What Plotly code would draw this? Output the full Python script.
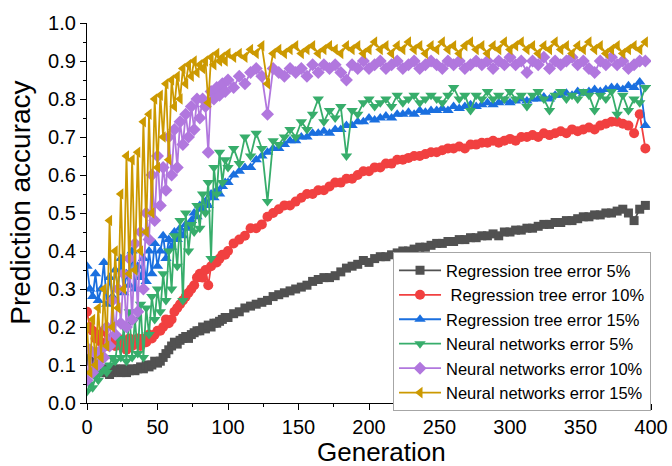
import plotly.graph_objects as go

generations = list(range(0, 100, 2)) + list(range(100, 400, 4))

rt_err5 = [
    0.13, 0.11, 0.10, 0.09, 0.10, 0.08, 0.09, 0.08, 0.075, 0.08,
    0.09, 0.085, 0.08, 0.09, 0.08, 0.085, 0.09, 0.085, 0.09, 0.095,
    0.09, 0.10, 0.095, 0.10, 0.11, 0.105, 0.11, 0.12, 0.13, 0.14,
    0.15, 0.16, 0.155, 0.165, 0.17, 0.175, 0.17, 0.18, 0.185, 0.19,
    0.19, 0.20, 0.195, 0.205, 0.20, 0.21, 0.21, 0.215, 0.22, 0.225,
    0.225, 0.235, 0.24, 0.25, 0.255, 0.26, 0.265, 0.27, 0.28, 0.285,
    0.29, 0.295, 0.30, 0.305, 0.31, 0.32, 0.325, 0.33, 0.33, 0.335,
    0.345, 0.355, 0.36, 0.365, 0.375, 0.37, 0.38, 0.385, 0.385, 0.39,
    0.395, 0.40, 0.40, 0.405, 0.41, 0.41, 0.415, 0.42, 0.42, 0.425,
    0.425, 0.43, 0.43, 0.435, 0.435, 0.44, 0.44, 0.445, 0.44, 0.45,
    0.45, 0.455, 0.455, 0.46, 0.46, 0.465, 0.47, 0.47, 0.475, 0.475,
    0.48, 0.48, 0.485, 0.49, 0.49, 0.495, 0.495, 0.50, 0.50, 0.505,
    0.51, 0.50, 0.48, 0.51, 0.52,
]

rt_err10 = [
    0.24, 0.20, 0.19, 0.17, 0.18, 0.16, 0.19, 0.15, 0.17, 0.16,
    0.15, 0.17, 0.15, 0.16, 0.14, 0.17, 0.15, 0.16, 0.17, 0.15,
    0.17, 0.16, 0.18, 0.17, 0.18, 0.19, 0.19, 0.20, 0.22, 0.21,
    0.22, 0.24, 0.25, 0.26, 0.27, 0.28, 0.29, 0.30, 0.31, 0.33,
    0.34, 0.33, 0.35, 0.31, 0.36, 0.37, 0.37, 0.38, 0.39, 0.39,
    0.40, 0.42, 0.43, 0.44, 0.46, 0.46, 0.47, 0.49, 0.50, 0.51,
    0.52, 0.52, 0.53, 0.54, 0.55, 0.55, 0.56, 0.56, 0.57, 0.58,
    0.58, 0.59, 0.59, 0.60, 0.61, 0.61, 0.62, 0.62, 0.63, 0.63,
    0.64, 0.64, 0.645, 0.65, 0.65, 0.655, 0.66, 0.66, 0.665, 0.67,
    0.67, 0.675, 0.67, 0.68, 0.68, 0.685, 0.685, 0.69, 0.685, 0.69,
    0.695, 0.69, 0.70, 0.70, 0.705, 0.70, 0.71, 0.705, 0.71, 0.715,
    0.71, 0.72, 0.715, 0.72, 0.725, 0.72, 0.73, 0.735, 0.74, 0.74,
    0.735, 0.73, 0.71, 0.76, 0.67,
]

rt_err15 = [
    0.36, 0.30, 0.28, 0.34, 0.27, 0.30, 0.37, 0.26, 0.33, 0.28,
    0.35, 0.30, 0.38, 0.29, 0.34, 0.31, 0.40, 0.30, 0.36, 0.33,
    0.38, 0.32, 0.40, 0.34, 0.42, 0.36, 0.40, 0.44, 0.38, 0.43,
    0.41, 0.45, 0.43, 0.46, 0.44, 0.47, 0.46, 0.48, 0.50, 0.49,
    0.52, 0.51, 0.53, 0.52, 0.55, 0.54, 0.56, 0.55, 0.57, 0.58,
    0.58, 0.60, 0.61, 0.62, 0.62, 0.64, 0.65, 0.66, 0.67, 0.67,
    0.68, 0.69, 0.69, 0.70, 0.70, 0.71, 0.71, 0.715, 0.71, 0.72,
    0.72, 0.73, 0.73, 0.74, 0.74, 0.75, 0.745, 0.75, 0.755, 0.75,
    0.76, 0.76, 0.765, 0.76, 0.77, 0.765, 0.77, 0.77, 0.775, 0.77,
    0.78, 0.775, 0.78, 0.785, 0.78, 0.785, 0.79, 0.785, 0.79, 0.795,
    0.79, 0.795, 0.80, 0.795, 0.80, 0.80, 0.805, 0.80, 0.81, 0.81,
    0.815, 0.81, 0.82, 0.815, 0.82, 0.825, 0.82, 0.825, 0.83, 0.83,
    0.825, 0.835, 0.83, 0.845, 0.73,
]

nn_err5 = [
    0.03, 0.05, 0.04, 0.07, 0.06, 0.08, 0.09, 0.08, 0.10, 0.12,
    0.11, 0.17, 0.12, 0.20, 0.11, 0.24, 0.12, 0.22, 0.13, 0.26,
    0.12, 0.25, 0.18, 0.28, 0.22, 0.30, 0.24, 0.34, 0.27, 0.40,
    0.30, 0.44, 0.36, 0.48, 0.27, 0.50, 0.40, 0.47, 0.45, 0.52,
    0.46, 0.55, 0.50, 0.58, 0.38, 0.62, 0.55, 0.66, 0.58, 0.64,
    0.62, 0.67, 0.63, 0.70, 0.65, 0.71, 0.67, 0.53, 0.69, 0.68,
    0.70, 0.72, 0.70, 0.74, 0.72, 0.76, 0.80, 0.74, 0.77, 0.75,
    0.78, 0.65, 0.77, 0.76, 0.79, 0.80, 0.78, 0.79, 0.80, 0.78,
    0.81, 0.79, 0.80, 0.81, 0.79, 0.80, 0.81, 0.80, 0.79, 0.81,
    0.83, 0.80, 0.81, 0.77, 0.81, 0.80, 0.82, 0.80, 0.81, 0.80,
    0.82, 0.80, 0.81, 0.78, 0.81, 0.82, 0.80, 0.77, 0.81, 0.82,
    0.80, 0.81, 0.80, 0.82, 0.81, 0.77, 0.81, 0.80, 0.82, 0.76,
    0.81, 0.77, 0.80, 0.79, 0.83,
]

nn_err10 = [
    0.06, 0.14, 0.08, 0.13, 0.10, 0.14, 0.12, 0.20, 0.15, 0.27,
    0.18, 0.30, 0.21, 0.34, 0.20, 0.38, 0.22, 0.42, 0.24, 0.45,
    0.30, 0.50, 0.43, 0.60, 0.48, 0.65, 0.52, 0.62, 0.56, 0.70,
    0.60, 0.72, 0.62, 0.74, 0.68, 0.76, 0.70, 0.78, 0.72, 0.80,
    0.75, 0.80, 0.78, 0.66, 0.82, 0.80, 0.83, 0.81, 0.84, 0.82,
    0.85, 0.83, 0.86, 0.84, 0.87, 0.88, 0.86, 0.76, 0.88, 0.87,
    0.86, 0.88, 0.87, 0.88, 0.86, 0.89, 0.87, 0.89, 0.88, 0.89,
    0.87, 0.85, 0.89, 0.88, 0.90, 0.88, 0.89, 0.90, 0.88, 0.89,
    0.90, 0.88, 0.89, 0.90, 0.88, 0.89, 0.90, 0.89, 0.88, 0.90,
    0.89, 0.90, 0.88, 0.89, 0.90, 0.89, 0.90, 0.88, 0.90, 0.89,
    0.91, 0.89, 0.90, 0.87, 0.90, 0.89, 0.91, 0.88, 0.90, 0.89,
    0.90, 0.91, 0.89, 0.90, 0.88, 0.87, 0.90, 0.89, 0.91, 0.89,
    0.90, 0.88, 0.89, 0.90, 0.90,
]

nn_err15 = [
    0.20, 0.08, 0.22, 0.10, 0.25, 0.12, 0.30, 0.15, 0.48, 0.20,
    0.40, 0.25, 0.55, 0.30, 0.65, 0.34, 0.64, 0.35, 0.66, 0.40,
    0.74, 0.45, 0.76, 0.50, 0.80, 0.62, 0.81, 0.70, 0.84, 0.64,
    0.85, 0.78, 0.86, 0.80, 0.88, 0.84, 0.89, 0.86, 0.90, 0.87,
    0.89, 0.88, 0.90, 0.79, 0.91, 0.89, 0.92, 0.90, 0.91, 0.90,
    0.92, 0.91, 0.92, 0.91, 0.93, 0.92, 0.94, 0.84, 0.92, 0.93,
    0.92, 0.93, 0.94, 0.92, 0.93, 0.94, 0.92, 0.93, 0.94, 0.93,
    0.92, 0.94, 0.93, 0.94, 0.92, 0.93, 0.95, 0.93, 0.94, 0.92,
    0.94, 0.93, 0.95, 0.93, 0.94, 0.92, 0.94, 0.93, 0.95, 0.93,
    0.94, 0.92, 0.94, 0.95, 0.93, 0.94, 0.92, 0.94, 0.93, 0.95,
    0.93, 0.94, 0.95, 0.93, 0.94, 0.92, 0.94, 0.93, 0.95, 0.93,
    0.94, 0.92, 0.94, 0.93, 0.95, 0.93, 0.94, 0.92, 0.93, 0.94,
    0.92, 0.93, 0.94, 0.93, 0.95,
]

series_names = [
    "Regression tree error 5%",
    " Regression tree error 10%",
    "Regression tree error 15%",
    "Neural networks error 5%",
    "Neural networks error 10%",
    "Neural networks error 15%",
]
series_values = [rt_err5, rt_err10, rt_err15, nn_err5, nn_err10, nn_err15]
colors = ["#515151", "#F14040", "#1A6FDF", "#37AD6B", "#B177DE", "#CC9900"]
symbols = ["square", "circle", "triangle-up", "triangle-down", "diamond", "triangle-left"]
sizes = [9, 10, 10, 10, 10, 10]

FONT = "Liberation Sans, Arial, sans-serif"

fig = go.Figure()
for name, vals, col, sym, sz in zip(series_names, series_values, colors, symbols, sizes):
    fig.add_trace(go.Scatter(
        x=generations, y=vals, name=name, mode="lines+markers",
        line=dict(color=col, width=1.8),
        marker=dict(symbol=sym, size=sz, color=col, line=dict(width=0)),
    ))

axis_font = dict(family=FONT, size=20, color="#000")
fig.update_layout(
    width=672, height=466,
    margin=dict(l=87, r=21, t=23, b=63, autoexpand=False),
    paper_bgcolor="white", plot_bgcolor="white",
    font=dict(family=FONT, color="#000"),
    showlegend=True,
    legend=dict(
        x=0.5426, y=0.397, xanchor="left", yanchor="top",
        bgcolor="white", bordercolor="#a6a6a6", borderwidth=1,
        font=dict(size=16.5, family=FONT, color="#000"),
        itemwidth=42, tracegroupgap=0,
    ),
    xaxis=dict(
        range=[0, 400], dtick=50, tick0=0, automargin=False,
        showline=True, linecolor="#000", linewidth=1.3, mirror=False,
        ticks="outside", ticklen=6, tickwidth=1.3, tickcolor="#000",
        minor=dict(dtick=25, ticks="outside", ticklen=3, tickwidth=1.3, tickcolor="#000"),
        showgrid=False, zeroline=False, tickfont=axis_font,
    ),
    yaxis=dict(
        range=[0, 1.0], dtick=0.1, tick0=0, tickformat=".1f", automargin=False,
        showline=True, linecolor="#000", linewidth=1.3, mirror=False,
        ticks="outside", ticklen=6, tickwidth=1.3, tickcolor="#000",
        minor=dict(dtick=0.05, ticks="outside", ticklen=3, tickwidth=1.3, tickcolor="#000"),
        showgrid=False, zeroline=False, tickfont=axis_font,
    ),
    annotations=[
        dict(text="Generation", xref="paper", yref="paper", x=0.523, y=-0.171,
             xanchor="center", yanchor="bottom", showarrow=False, borderpad=0,
             font=dict(family=FONT, size=26, color="#000")),
        dict(text="Prediction accuracy", xref="paper", yref="paper", x=-0.117, y=0.527,
             xanchor="center", yanchor="middle", textangle=-90, showarrow=False,
             font=dict(family=FONT, size=28, color="#000")),
    ],
)

fig.write_html("out.html", config={"displayModeBar": False})

# remove the browser's default page margin so the figure sits at the window origin
with open("out.html", "r", encoding="utf-8") as f:
    html = f.read()
html = html.replace("<head>", "<head><style>html,body{margin:0;padding:0;overflow:hidden;}</style>", 1)
with open("out.html", "w", encoding="utf-8") as f:
    f.write(html)
